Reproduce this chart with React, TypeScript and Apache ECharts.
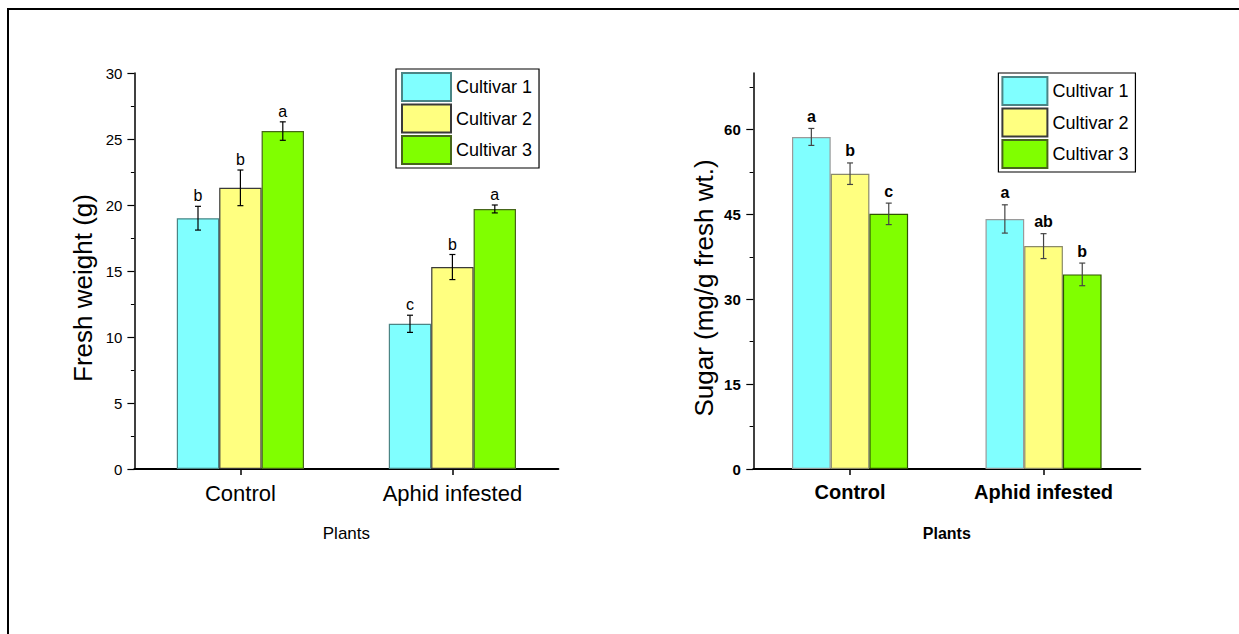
import React, { useEffect, useRef } from "react";
import * as echarts from "echarts";

const categories = ["Control", "Aphid infested"];
const cultivars = ["Cultivar 1", "Cultivar 2", "Cultivar 3"];

// Fresh weight (g): per cultivar, [Control, Aphid infested]
const weightMeans = [
  [19.0, 11.0],
  [21.3, 15.3],
  [25.6, 19.7],
];
const weightErrors = [
  [0.9, 0.65],
  [1.35, 0.95],
  [0.7, 0.3],
];
const weightLetters = [
  ["b", "c"],
  ["b", "b"],
  ["a", "a"],
];

// Sugar (mg/g fresh wt.)
const sugarMeans = [
  [58.7, 44.2],
  [52.2, 39.4],
  [45.1, 34.4],
];
const sugarErrors = [
  [1.5, 2.5],
  [1.9, 2.2],
  [1.9, 2.0],
];
const sugarLetters = [
  ["a", "a"],
  ["b", "ab"],
  ["c", "b"],
];

const sugarTicks = [0, 15, 30, 45, 60];
const sugarMinorTicks = [7.5, 22.5, 37.5, 52.5, 67.5];

const fillColors = ["#80FFFF", "#FFFF80", "#80FF00"];
const borderLeft = ["#4a8585", "#3a3a3a", "#46661a"];
const borderRight = ["#9a9a9a", "#8a8a6a", "#2f5500"];

const SANS = "'Liberation Sans', Arial, sans-serif";

function errSeries(
  gi: number,
  yi: number,
  k: number,
  means: number[][],
  errs: number[][],
  letters: string[][],
  bold: boolean,
  barColor: string
) {
  return {
    type: "custom",
    xAxisIndex: gi,
    yAxisIndex: yi,
    z: 10,
    silent: true,
    data: categories.map((_, i) => [i, means[k][i], errs[k][i]]),
    renderItem: (params: any, api: any) => {
      const ci = api.value(0);
      const m = api.value(1);
      const e = api.value(2);
      const c = api.coord([ci, m]);
      const band = api.size([1, 0])[0];
      const bw = (band * 0.6) / 3;
      const x = c[0] + (k - 1) * bw;
      const yTop = api.coord([ci, m + e])[1];
      const yBot = api.coord([ci, m - e])[1];
      const cap = 3;
      const ls = { stroke: barColor, lineWidth: 1.2 };
      return {
        type: "group",
        children: [
          { type: "line", shape: { x1: x, y1: yTop, x2: x, y2: yBot }, style: ls },
          { type: "line", shape: { x1: x - cap, y1: yTop, x2: x + cap, y2: yTop }, style: ls },
          { type: "line", shape: { x1: x - cap, y1: yBot, x2: x + cap, y2: yBot }, style: ls },
          {
            type: "text",
            style: {
              text: letters[k][params.dataIndex],
              x: x,
              y: bold ? yTop - 4 : yTop - 2.5,
              align: "center",
              verticalAlign: "bottom",
              fontSize: 16,
              fontWeight: bold ? "bold" : "normal",
              fontFamily: SANS,
              fill: "#000",
            },
          },
        ],
      };
    },
  };
}

export default function App() {
  const ref = useRef<HTMLDivElement>(null);
  useEffect(() => {
    if (!ref.current) return;
    const chart = echarts.init(ref.current, null, { renderer: "svg" });

    const barSeries: any[] = [];
    const customSeries: any[] = [];
    for (let k = 0; k < 3; k++) {
      barSeries.push({
        type: "bar",
        name: cultivars[k],
        xAxisIndex: 0,
        yAxisIndex: 0,
        data: weightMeans[k],
        barGap: "0%",
        barCategoryGap: "40%",
        itemStyle: { color: fillColors[k], borderColor: borderLeft[k], borderWidth: 1.2 },
      });
      barSeries.push({
        type: "bar",
        name: cultivars[k],
        xAxisIndex: 1,
        yAxisIndex: 1,
        data: sugarMeans[k],
        barGap: "0%",
        barCategoryGap: "40%",
        itemStyle: { color: fillColors[k], borderColor: borderRight[k], borderWidth: 1.2 },
      });
      customSeries.push(errSeries(0, 0, k, weightMeans, weightErrors, weightLetters, false, "#000"));
      customSeries.push(errSeries(1, 1, k, sugarMeans, sugarErrors, sugarLetters, true, "#444"));
    }

    const axisLine = { show: true, lineStyle: { color: "#000", width: 1.5 } };

    chart.setOption({
      animation: false,
      backgroundColor: "#fff",
      graphic: [
        {
          type: "rect",
          shape: { x: 8, y: 9, width: 1300, height: 700 },
          style: { fill: "none", stroke: "#000", lineWidth: 2 },
          silent: true,
        },
      ],
      grid: [
        { left: 134.4, top: 73, width: 424, height: 396 },
        { left: 753.3, top: 73, width: 387, height: 396 },
      ],
      legend: [
        {
          data: cultivars,
          orient: "vertical",
          left: 396,
          top: 69,
          itemWidth: 49,
          itemHeight: 28,
          itemGap: 1.5,
          padding: [3, 7, 3, 5],
          borderColor: "#000",
          borderWidth: 1.2,
          icon: "rect",
          selectedMode: false,
          textStyle: { fontSize: 18, fontFamily: SANS, color: "#000" },
        },
        {
          data: cultivars,
          orient: "vertical",
          left: 998.4,
          top: 73,
          itemWidth: 45,
          itemHeight: 28,
          itemGap: 1.5,
          padding: [3, 7, 3, 3],
          borderColor: "#000",
          borderWidth: 1.2,
          icon: "rect",
          selectedMode: false,
          textStyle: { fontSize: 18, fontFamily: SANS, color: "#000" },
        },
      ],
      xAxis: [
        {
          type: "category",
          gridIndex: 0,
          data: categories,
          name: "Plants",
          nameLocation: "middle",
          nameGap: 56,
          nameTextStyle: { fontSize: 17, fontFamily: SANS, color: "#000" },
          axisLine: { show: true, lineStyle: { color: "#000", width: 2 } },
          axisTick: { show: true, alignWithLabel: true, length: 6, lineStyle: { color: "#000", width: 1.5 } },
          axisLabel: { interval: 0, margin: 13, fontSize: 22, fontFamily: SANS, color: "#000" },
          splitLine: { show: false },
        },
        {
          type: "category",
          gridIndex: 1,
          data: categories,
          name: "Plants",
          nameLocation: "middle",
          nameGap: 56,
          nameTextStyle: { fontSize: 16, fontWeight: "bold", fontFamily: SANS, color: "#000" },
          axisLine: { show: true, lineStyle: { color: "#000", width: 2 } },
          axisTick: { show: true, alignWithLabel: true, length: 6, lineStyle: { color: "#000", width: 1.5 } },
          axisLabel: { interval: 0, margin: 13, fontSize: 20, fontWeight: "bold", fontFamily: SANS, color: "#000" },
          splitLine: { show: false },
        },
      ],
      yAxis: [
        {
          type: "value",
          gridIndex: 0,
          min: 0,
          max: 30,
          interval: 5,
          name: "Fresh weight (g)",
          nameLocation: "middle",
          nameGap: 38,
          nameTextStyle: { fontSize: 26, fontFamily: SANS, color: "#000", padding: [0, 34, 0, 0] },
          axisLine,
          axisTick: { show: true, length: 7, lineStyle: { color: "#000", width: 1.2 } },
          minorTick: { show: true, splitNumber: 2, length: 3.5, lineStyle: { color: "#000", width: 1 } },
          axisLabel: { margin: 12, fontSize: 15, fontFamily: SANS, color: "#000" },
          splitLine: { show: false },
        },
        {
          type: "value",
          gridIndex: 1,
          position: "left",
          min: 0,
          max: 70,
          name: "Sugar (mg/g fresh wt.)",
          nameLocation: "middle",
          nameGap: 36,
          nameTextStyle: { fontSize: 26, fontFamily: SANS, color: "#000", padding: [0, 34, 0, 0] },
          axisLine,
          axisTick: { show: true, length: 7, customValues: sugarTicks, lineStyle: { color: "#000", width: 1.2 } },
          axisLabel: {
            margin: 12.5,
            fontSize: 15,
            fontWeight: "bold",
            fontFamily: SANS,
            color: "#000",
            customValues: sugarTicks,
          },
          splitLine: { show: false },
        },
        {
          type: "value",
          gridIndex: 1,
          position: "left",
          offset: 0,
          min: 0,
          max: 70,
          axisLine: { show: false },
          axisTick: { show: true, length: 3.7, customValues: sugarMinorTicks, lineStyle: { color: "#000", width: 1 } },
          axisLabel: { show: false },
          splitLine: { show: false },
        },
      ],
      series: [...barSeries, ...customSeries],
    });
    return () => chart.dispose();
  }, []);
  return (
    <div
      ref={ref}
      style={{ position: "absolute", left: 0, top: 0, width: 1239, height: 634, background: "#fff" }}
    />
  );
}
